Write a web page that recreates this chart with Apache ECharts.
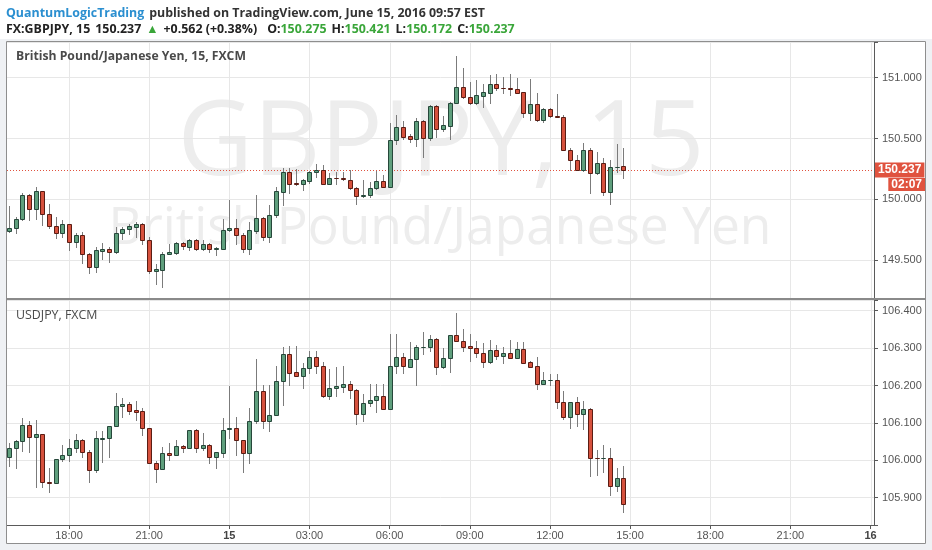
<!DOCTYPE html>
<html><head><meta charset="utf-8">
<script src="https://cdn.jsdelivr.net/npm/echarts@6/dist/echarts.min.js"></script>
<style>html,body{margin:0;padding:0;background:#eff1f4}#c{width:932px;height:550px}</style>
</head><body><div id="c"></div>
<script>
// ---- data ----
// x = 15-minute slot index counted from 2016-06-14 00:00 (slot 96 = June 15 00:00)
const firstBarSlot = 63;           // 2016-06-14 15:45
const timeTickLabels = ['18:00','21:00','15','03:00','06:00','09:00','12:00','15:00','18:00','21:00','16'];
const timeTickSlots  = [72, 84, 96, 108, 120, 132, 144, 156, 168, 180, 192];
const dayTickLabels  = ['15','16'];
// [open, close, low, high]
const gbpjpy = [
[149.739,149.766,149.731,149.945],[149.766,149.841,149.722,149.854],[149.841,150.038,149.827,150.052],
[150.038,149.923,149.827,150.047],[149.923,150.066,149.841,150.102],[150.066,149.882,149.786,150.066],
[149.882,149.780,149.766,149.959],[149.780,149.722,149.684,149.854],[149.722,149.794,149.690,149.827],
[149.794,149.648,149.580,149.799],[149.648,149.703,149.607,149.722],[149.703,149.552,149.475,149.731],
[149.552,149.442,149.396,149.558],[149.442,149.580,149.401,149.607],[149.574,149.593,149.511,149.640],
[149.593,149.566,149.484,149.607],[149.566,149.725,149.560,149.772],[149.725,149.758,149.676,149.772],
[149.758,149.777,149.717,149.799],[149.772,149.799,149.690,149.813],[149.799,149.667,149.629,149.805],
[149.667,149.407,149.393,149.690],[149.407,149.423,149.305,149.470],[149.420,149.552,149.277,149.566],
[149.552,149.566,149.552,149.635],[149.560,149.640,149.552,149.648],[149.640,149.613,149.593,149.648],
[149.607,149.662,149.585,149.676],[149.662,149.593,149.580,149.670],[149.593,149.629,149.585,149.667],
[149.629,149.588,149.566,149.640],[149.588,149.602,149.538,149.607],[149.593,149.750,149.593,149.841],
[149.750,149.766,149.739,149.997],[149.766,149.709,149.629,149.841],[149.709,149.588,149.566,149.722],
[149.588,149.744,149.552,149.813],[149.739,149.846,149.725,150.038],[149.846,149.690,149.667,149.854],
[149.690,149.868,149.648,149.951],[149.868,150.069,149.854,150.102],[150.060,150.220,149.951,150.253],
[150.220,150.129,150.055,150.253],[150.135,150.124,150.115,150.247],[150.129,150.157,150.074,150.170],
[150.151,150.220,150.135,150.233],[150.220,150.239,150.184,150.286],[150.239,150.129,150.124,150.280],
[150.129,150.173,150.124,150.217],[150.176,150.173,150.124,150.220],[150.172,150.168,150.157,150.225],
[150.162,150.096,150.088,150.239],[150.096,150.025,149.964,150.102],[150.028,150.036,150.019,150.162],
[150.033,150.096,150.019,150.143],[150.096,150.154,150.088,150.233],[150.154,150.102,150.102,150.203],
[150.102,150.486,150.102,150.629],[150.486,150.591,150.453,150.692],[150.591,150.514,150.492,150.643],
[150.519,150.492,150.473,150.533],[150.492,150.646,150.437,150.670],[150.646,150.506,150.349,150.651],
[150.506,150.766,150.486,150.775],[150.766,150.574,150.514,150.775],[150.574,150.607,150.560,150.684],
[150.604,150.788,150.492,150.802],[150.788,150.926,150.788,151.181],[150.926,150.843,150.830,151.077],
[150.843,150.788,150.783,150.967],[150.788,150.857,150.783,150.981],[150.852,150.879,150.756,150.948],
[150.876,150.948,150.788,151.022],[150.948,150.912,150.898,151.030],[150.918,150.915,150.871,151.008],
[150.918,150.904,150.857,151.030],[150.904,150.876,150.871,150.994],[150.879,150.706,150.679,150.885],
[150.706,150.783,150.651,150.986],[150.783,150.651,150.643,150.871],[150.651,150.742,150.637,150.753],
[150.742,150.684,150.679,150.747],[150.684,150.673,150.673,150.865],[150.679,150.409,150.404,150.692],
[150.409,150.321,150.239,150.418],[150.321,150.244,150.239,150.363],[150.244,150.409,150.233,150.464],
[150.409,150.217,150.055,150.418],[150.217,150.294,150.206,150.390],[150.294,150.060,150.033,150.343],
[150.060,150.266,149.964,150.321],[150.264,150.266,150.225,150.453],[150.275,150.237,150.172,150.421]
];
const usdjpy = [
[106.008,106.032,105.986,106.046],[106.032,106.052,105.979,106.055],[106.052,106.095,106.026,106.112],
[106.095,106.061,106.023,106.105],[106.061,106.070,105.928,106.108],[106.070,105.941,105.928,106.071],
[105.941,105.939,105.915,105.979],[105.939,106.003,105.939,106.003],[106.003,106.014,105.999,106.041],
[106.014,106.032,105.997,106.057],[106.032,106.055,106.023,106.070],[106.055,106.022,106.008,106.057],
[106.023,105.973,105.941,106.028],[105.973,106.059,105.968,106.079],[106.058,106.059,105.995,106.079],
[106.059,106.092,106.008,106.092],[106.092,106.144,106.092,106.179],[106.144,106.151,106.117,106.166],
[106.151,106.133,106.124,106.157],[106.135,106.130,106.108,106.159],[106.132,106.087,106.068,106.139],
[106.087,105.994,105.992,106.087],[105.994,105.976,105.941,105.997],[105.976,106.019,105.976,106.035],
[106.019,106.014,106.001,106.047],[106.014,106.037,106.013,106.055],[106.037,106.034,106.023,106.041],
[106.034,106.081,106.034,106.081],[106.081,106.032,106.023,106.084],[106.032,106.041,106.028,106.074],
[106.041,106.010,105.992,106.043],[106.008,106.021,105.979,106.023],[106.019,106.081,106.010,106.112],
[106.083,106.087,106.059,106.199],[106.087,106.053,106.013,106.115],[106.055,106.019,105.970,106.055],
[106.019,106.105,105.992,106.139],[106.104,106.185,106.099,106.270],[106.185,106.106,106.086,106.201],
[106.106,106.120,106.079,106.201],[106.120,106.213,106.120,106.252],[106.213,106.283,106.148,106.304],
[106.283,106.234,106.201,106.306],[106.235,106.226,106.226,106.306],[106.226,106.246,106.193,106.259],
[106.246,106.275,106.233,106.291],[106.275,106.252,106.233,106.291],[106.252,106.172,106.170,106.264],
[106.172,106.193,106.163,106.244],[106.193,106.199,106.172,106.250],[106.197,106.203,106.182,106.252],
[106.203,106.188,106.166,106.212],[106.188,106.123,106.096,106.190],[106.123,106.154,106.106,106.177],
[106.154,106.161,106.144,106.203],[106.160,106.172,106.128,106.203],[106.172,106.136,106.136,106.203],
[106.136,106.252,106.136,106.339],[106.252,106.275,106.234,106.337],[106.275,106.252,106.233,106.288],
[106.250,106.270,106.249,106.315],[106.270,106.304,106.200,106.308],[106.303,106.304,106.284,106.342],
[106.302,106.323,106.291,106.335],[106.323,106.249,106.230,106.326],[106.249,106.273,106.248,106.299],
[106.273,106.335,106.237,106.335],[106.335,106.320,106.320,106.393],[106.320,106.304,106.292,106.350],
[106.306,106.301,106.266,106.337],[106.301,106.288,106.275,106.319],[106.288,106.264,106.250,106.313],
[106.264,106.295,106.261,106.322],[106.295,106.280,106.270,106.307],[106.280,106.288,106.261,106.304],
[106.288,106.274,106.273,106.322],[106.274,106.297,106.273,106.315],[106.297,106.261,106.259,106.315],
[106.264,106.250,106.249,106.266],[106.252,106.204,106.191,106.275],[106.204,106.215,106.203,106.235],
[106.214,106.215,106.200,106.231],[106.215,106.155,106.139,106.230],[106.157,106.117,106.111,106.185],
[106.117,106.157,106.087,106.157],[106.157,106.124,106.093,106.170],[106.124,106.136,106.083,106.159],
[106.136,106.006,105.959,106.139],[106.006,106.005,105.961,106.028],[106.005,106.006,105.968,106.041],
[106.006,105.930,105.908,106.032],[105.930,105.952,105.918,105.979],[105.952,105.883,105.863,105.986]
];
const headerChange = '+0.562 (+0.38%)';
const countdown = '02:07';

// ---- styles ----
const UP = '#5f9f7d', UPB = '#26473a', DOWN = '#d6513d', DOWNB = '#5a1d14', WICK = '#7b7b7b';
const GRIDC = '#e7e7e7', AXISC = '#5a5a5a', LABELC = '#555', TAG = '#e0533f';
const AXFONT = 'Liberation Sans, Arial, sans-serif';
const HF = 12.4;

function candle(params, api) {
  const s = api.value(0), o = api.value(1), c = api.value(2), l = api.value(3), h = api.value(4);
  const pO = api.coord([s, o]), pC = api.coord([s, c]), pL = api.coord([s, l]), pH = api.coord([s, h]);
  const cx = Math.round(pO[0]) + 0.5;
  const yT = Math.round(Math.min(pO[1], pC[1])) + 0.5;
  const yB = Math.round(Math.max(pO[1], pC[1])) + 0.5;
  const up = c >= o;
  return {type: 'group', children: [
    {type: 'line', shape: {x1: cx, y1: Math.round(pH[1]), x2: cx, y2: Math.round(pL[1]) + 1},
     style: {stroke: WICK, lineWidth: 1}},
    {type: 'rect', shape: {x: cx - 2, y: yT, width: 4, height: yB - yT},
     style: {fill: up ? UP : DOWN, stroke: up ? UPB : DOWNB, lineWidth: 1}}
  ]};
}
function vGrid(params, api) {
  const cs = params.coordSys;
  const x = Math.round(api.coord([api.value(0), api.value(1)])[0]) + 0.5;
  return {type: 'line', shape: {x1: x, y1: cs.y, x2: x, y2: cs.y + cs.height},
          style: {stroke: GRIDC, lineWidth: 1}};
}
const toSeries = arr => arr.map((d, i) => [firstBarSlot + i, d[0], d[1], d[2], d[3]]);
const last = gbpjpy[gbpjpy.length - 1];
const lastSlot = firstBarSlot + gbpjpy.length - 1;

function timeLabel(v) {
  const k = timeTickSlots.indexOf(v);
  if (k < 0) return '';
  const t = timeTickLabels[k];
  return dayTickLabels.indexOf(t) >= 0 ? '{d|' + t + '}' : t;
}
function priceLabel(step) {
  return v => Math.abs(v / step - Math.round(v / step)) < 1e-6 ? v.toFixed(3) : '';
}
const xCommon = {type: 'value', min: 62.72, max: 192.52, splitLine: {show: false}};

const option = {
  animation: false,
  backgroundColor: '#eff1f4',
  title: [
    {left: 6, top: 4, padding: 0,
     text: '{b|QuantumLogicTrading} {n|published on TradingView.com, June 15, 2016 09:57 EST}',
     textStyle: {rich: {
       b: {color: '#2b8fd0', fontWeight: 'bold', fontSize: HF, fontFamily: 'Open Sans'},
       n: {color: '#333', fontSize: HF, fontFamily: 'Open Sans'}}}},
    {left: 6, top: 20, padding: 0,
     text: '{b|FX:GBPJPY, 15} {n|' + last[1].toFixed(3) + '} {g|▲} {n|' + headerChange + '}  ' +
           '{b|O:}{g|' + last[0].toFixed(3) + '} {b|H:}{g|' + last[3].toFixed(3) + '} ' +
           '{b|L:}{g|' + last[2].toFixed(3) + '} {b|C:}{g|' + last[1].toFixed(3) + '}',
     textStyle: {rich: {
       b: {color: '#222', fontWeight: 'bold', fontSize: HF, fontFamily: 'Open Sans'},
       n: {color: '#222', fontSize: HF, fontFamily: 'Open Sans'},
       g: {color: '#3aa63a', fontSize: HF, fontFamily: 'Open Sans'}}}},
    {left: 16, top: 51, padding: 0, text: 'British Pound/Japanese Yen, 15, FXCM',
     textStyle: {color: '#4a4a4a', fontWeight: 'bold', fontSize: 12.2, fontFamily: 'Open Sans'}},
    {left: 16, top: 309, padding: 0, text: 'USDJPY, FXCM',
     textStyle: {color: '#4a4a4a', fontWeight: 'normal', fontSize: 12.4, fontFamily: 'Open Sans'}}
  ],
  grid: [
    {left: 7, right: 58, top: 42, height: 256},
    {left: 7, right: 58, top: 300, height: 225}
  ],
  xAxis: [
    Object.assign({gridIndex: 0, axisLine: {show: false}, axisTick: {show: false}, axisLabel: {show: false}}, xCommon),
    Object.assign({gridIndex: 1,
      axisLine: {show: true, lineStyle: {color: AXISC}},
      axisTick: {show: true, length: 4, customValues: timeTickSlots, lineStyle: {color: AXISC}},
      axisLabel: {show: true, margin: 5, color: LABELC, fontSize: 11, fontFamily: AXFONT,
        customValues: timeTickSlots, formatter: timeLabel,
        rich: {d: {fontWeight: 'bold', color: '#444', fontSize: 11, fontFamily: AXFONT}}}}, xCommon)
  ],
  yAxis: [
    {type: 'value', gridIndex: 0, position: 'right', min: 149.187, max: 151.294, splitNumber: 5, scale: true,
     axisLine: {show: true, lineStyle: {color: AXISC}},
     axisTick: {show: true, length: 4, lineStyle: {color: AXISC}},
     axisLabel: {margin: 8, color: LABELC, fontSize: 11, fontFamily: AXFONT, formatter: priceLabel(0.5)},
     splitLine: {show: true, lineStyle: {color: GRIDC}}},
    {type: 'value', gridIndex: 1, position: 'right', min: 105.827, max: 106.4286, splitNumber: 5, scale: true,
     axisLine: {show: true, lineStyle: {color: AXISC}},
     axisTick: {show: true, length: 4, lineStyle: {color: AXISC}},
     axisLabel: {margin: 8, color: LABELC, fontSize: 11, fontFamily: AXFONT, formatter: priceLabel(0.1)},
     splitLine: {show: true, lineStyle: {color: GRIDC}}}
  ],
  graphic: [
    {type: 'rect', z: -20, silent: true, shape: {x: 0, y: 0, width: 932, height: 39}, style: {fill: '#ffffff'}},
    {type: 'rect', z: -20, silent: true, shape: {x: 6, y: 41, width: 920, height: 503}, style: {fill: '#ffffff'}},
    {type: 'text', z: -10, silent: true, x: 441, y: 145,
     style: {text: 'GBPJPY, 15', fontSize: 104, fontFamily: 'Open Sans', fill: '#ededed',
             textAlign: 'center', textVerticalAlign: 'middle', align: 'center', verticalAlign: 'middle'}},
    {type: 'text', z: -10, silent: true, x: 440, y: 229,
     style: {text: 'British Pound/Japanese Yen', fontSize: 51.5, fontFamily: 'Open Sans', fill: '#ededed',
             textAlign: 'center', textVerticalAlign: 'middle', align: 'center', verticalAlign: 'middle'}},
    {type: 'rect', z: 60, silent: true, shape: {x: 6.5, y: 41.5, width: 919, height: 502},
     style: {fill: null, stroke: '#8e8e8e', lineWidth: 1}},
    {type: 'line', z: 60, silent: true, shape: {x1: 6, y1: 299, x2: 926, y2: 299},
     style: {stroke: '#8a8a8a', lineWidth: 2}},
    {type: 'text', z: 60, silent: true, right: 7, top: 178,
     style: {text: countdown, fontSize: 12, fontWeight: 'bold', fontFamily: AXFONT, fill: '#fff',
             backgroundColor: TAG, padding: [1, 3, 0, 3]}}
  ],
  series: [
    {type: 'custom', name: 'grid0', xAxisIndex: 0, yAxisIndex: 0, renderItem: vGrid, silent: true, z: 1,
     encode: {x: 0, y: 1}, data: timeTickSlots.map(s => [s, 150])},
    {type: 'custom', name: 'grid1', xAxisIndex: 1, yAxisIndex: 1, renderItem: vGrid, silent: true, z: 1,
     encode: {x: 0, y: 1}, data: timeTickSlots.map(s => [s, 106])},
    {type: 'custom', name: 'GBPJPY', xAxisIndex: 0, yAxisIndex: 0, renderItem: candle, clip: true,
     encode: {x: 0, y: [1, 2, 3, 4]}, data: toSeries(gbpjpy), z: 5},
    {type: 'custom', name: 'USDJPY', xAxisIndex: 1, yAxisIndex: 1, renderItem: candle, clip: true,
     encode: {x: 0, y: [1, 2, 3, 4]}, data: toSeries(usdjpy), z: 5},
    {type: 'line', xAxisIndex: 0, yAxisIndex: 0, data: [[lastSlot, last[1]]], showSymbol: false,
     symbol: 'none', lineStyle: {opacity: 0}, z: 4,
     markLine: {silent: true, symbol: 'none', animation: false,
       lineStyle: {color: TAG, type: [1, 2], width: 1},
       label: {show: true, position: 'end', distance: 1, formatter: last[1].toFixed(3), color: '#fff',
         backgroundColor: TAG, fontWeight: 'bold', fontSize: 12, fontFamily: AXFONT, padding: [2, 3, 1, 3]},
       data: [{yAxis: last[1]}]}}
  ]
};
const chart = echarts.init(document.getElementById('c'), null, {renderer: 'canvas'});
chart.setOption(option);
</script></body></html>
